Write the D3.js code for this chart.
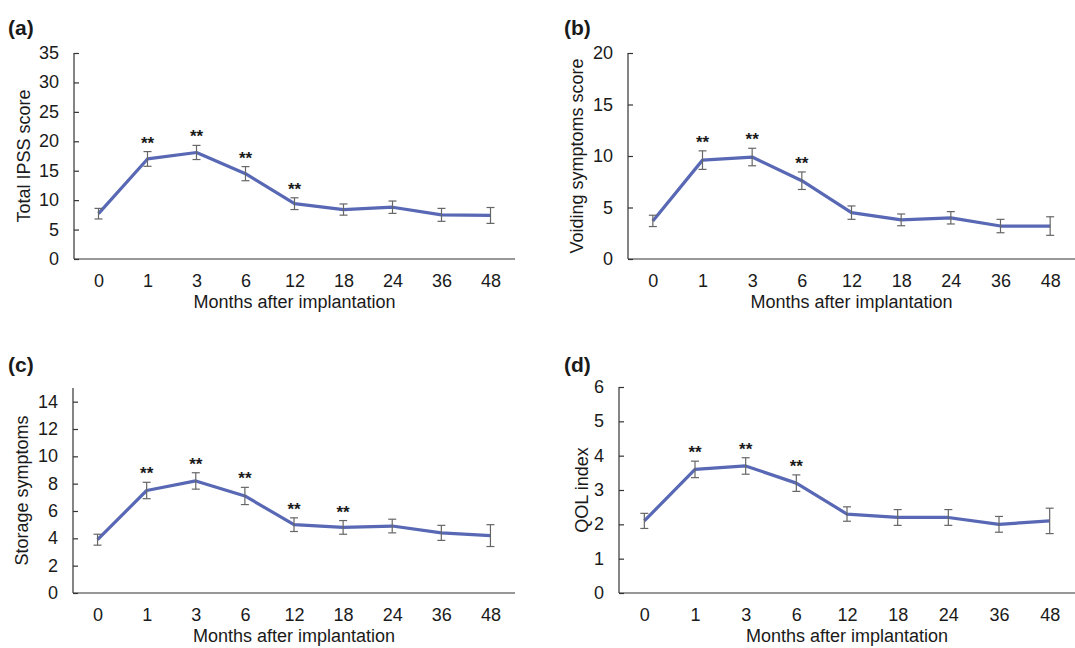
<!DOCTYPE html>
<html>
<head>
<meta charset="utf-8">
<script src="https://cdn.jsdelivr.net/npm/d3@7"></script>
<style>
  body { margin: 0; background: #fff; }
  svg text { font-family: "Liberation Sans", Arial, sans-serif; fill: #1a1a1a; }
  .c-axis path, .c-axis line { stroke: #333; stroke-width: 1.2; }
</style>
</head>
<body>
<div id="chart"></div>
<script>
// months after implantation (x categories)
const months = ['0', '1', '3', '6', '12', '18', '24', '36', '48'];

// (a) total IPSS score
const ipssMean = [7.7, 17.0, 18.1, 14.5, 9.4, 8.4, 8.8, 7.5, 7.4];
const ipssErr = [0.9, 1.25, 1.2, 1.2, 1.0, 0.95, 1.05, 1.1, 1.35];
const ipssSig = [false, true, true, true, true, false, false, false, false];

// (b) voiding symptoms score
const voidingMean = [3.7, 9.6, 9.9, 7.6, 4.5, 3.8, 4.0, 3.2, 3.2];
const voidingErr = [0.55, 0.9, 0.85, 0.85, 0.65, 0.57, 0.6, 0.65, 0.9];
const voidingSig = [false, true, true, true, false, false, false, false, false];

// (c) storage symptoms
const storageMean = [3.9, 7.5, 8.2, 7.1, 5.0, 4.8, 4.9, 4.4, 4.2];
const storageErr = [0.4, 0.6, 0.6, 0.63, 0.5, 0.5, 0.5, 0.55, 0.8];
const storageSig = [false, true, true, true, true, true, false, false, false];

// (d) QOL index
const qolMean = [2.1, 3.6, 3.7, 3.2, 2.3, 2.2, 2.2, 2.0, 2.1];
const qolErr = [0.22, 0.24, 0.24, 0.24, 0.21, 0.23, 0.23, 0.23, 0.37];
const qolSig = [false, true, true, true, false, false, false, false, false];

// y axis ticks per panel
const ipssTicks = [0, 5, 10, 15, 20, 25, 30, 35];
const voidingTicks = [0, 5, 10, 15, 20];
const storageTicks = [0, 2, 4, 6, 8, 10, 12, 14];
const qolTicks = [0, 1, 2, 3, 4, 5, 6];

const xTitle = 'Months after implantation';
const lineColor = '#5868b4';

const svg = d3.select('#chart').append('svg')
  .attr('width', 1075)
  .attr('height', 648);

// layout of each panel (positions only)
const panels = [
  { tag: '(a)', title: 'Total IPSS score', mean: ipssMean, err: ipssErr, sig: ipssSig,
    ticks: ipssTicks, yMax: 35, left: 74, right: 515, top: 53, bottom: 259, titleOff: 44, tagX: 8, tagY: 35 },
  { tag: '(b)', title: 'Voiding symptoms score', mean: voidingMean, err: voidingErr, sig: voidingSig,
    ticks: voidingTicks, yMax: 20, left: 628, right: 1075, top: 53, bottom: 259, titleOff: 45, tagX: 564, tagY: 35 },
  { tag: '(c)', title: 'Storage symptoms', mean: storageMean, err: storageErr, sig: storageSig,
    ticks: storageTicks, yMax: 15, left: 73, right: 515, top: 388, bottom: 593, titleOff: 45, tagX: 8, tagY: 372 },
  { tag: '(d)', title: 'QOL index', mean: qolMean, err: qolErr, sig: qolSig,
    ticks: qolTicks, yMax: 6, left: 619, right: 1075, top: 387, bottom: 593, titleOff: 31, tagX: 564, tagY: 372 }
];

panels.forEach(p => {
  const g = svg.append('g');

  const x = d3.scalePoint().domain(months).range([p.left, p.right]).padding(0.5);
  const y = d3.scaleLinear().domain([0, p.yMax]).range([p.bottom, p.top]);

  // y axis, ticks pointing inwards
  const yAxis = d3.axisRight(y).tickValues(p.ticks).tickSize(5).tickFormat('');
  g.append('g')
    .attr('class', 'c-axis')
    .attr('transform', 'translate(' + p.left + ',0)')
    .call(yAxis)
    .call(s => s.select('.domain').attr('d', 'M0,' + p.top + 'V' + p.bottom));

  g.selectAll('.ylab')
    .data(p.ticks)
    .join('text')
    .attr('x', p.left - 15)
    .attr('y', d => y(d) + 6)
    .attr('text-anchor', 'end')
    .style('font-size', '18px')
    .text(d => d);

  // x axis: plain line, no tick marks
  const xAxis = d3.axisBottom(x).tickSize(0).tickPadding(15);
  g.append('g')
    .attr('class', 'c-axis')
    .attr('transform', 'translate(0,' + p.bottom + ')')
    .call(xAxis)
    .call(s => s.select('.domain').attr('d', 'M' + p.left + ',0H' + p.right))
    .call(s => s.selectAll('text').style('font-size', '18px').attr('fill', '#1a1a1a'));

  // axis titles
  g.append('text')
    .attr('x', (p.left + p.right) / 2)
    .attr('y', p.bottom + 49)
    .attr('text-anchor', 'middle')
    .style('font-size', '18px')
    .text(xTitle);

  g.append('text')
    .attr('transform', 'translate(' + (p.left - p.titleOff) + ',' + ((p.top + p.bottom) / 2) + ') rotate(-90)')
    .attr('text-anchor', 'middle')
    .style('font-size', '18px')
    .text(p.title);

  // panel tag
  g.append('text')
    .attr('x', p.tagX)
    .attr('y', p.tagY)
    .style('font-size', '21px')
    .style('font-weight', 'bold')
    .text(p.tag);

  const rows = months.map((m, i) => ({ m: m, v: p.mean[i], e: p.err[i], s: p.sig[i] }));

  // mean line
  const line = d3.line().x(d => x(d.m)).y(d => y(d.v));
  g.append('path')
    .attr('d', line(rows))
    .attr('fill', 'none')
    .attr('stroke', lineColor)
    .attr('stroke-width', 3.2)
    .attr('stroke-linejoin', 'round');

  // error bars
  const bars = g.selectAll('.err').data(rows).join('g').attr('stroke', '#666').attr('stroke-width', 1.2);
  bars.append('line')
    .attr('x1', d => x(d.m)).attr('x2', d => x(d.m))
    .attr('y1', d => y(d.v + d.e)).attr('y2', d => y(d.v - d.e));
  bars.append('line')
    .attr('x1', d => x(d.m) - 4).attr('x2', d => x(d.m) + 4)
    .attr('y1', d => y(d.v + d.e)).attr('y2', d => y(d.v + d.e));
  bars.append('line')
    .attr('x1', d => x(d.m) - 4).attr('x2', d => x(d.m) + 4)
    .attr('y1', d => y(d.v - d.e)).attr('y2', d => y(d.v - d.e));

  // significance marks
  g.selectAll('.sig')
    .data(rows.filter(d => d.s))
    .join('text')
    .attr('x', d => x(d.m))
    .attr('y', d => y(d.v + d.e) - 3)
    .attr('text-anchor', 'middle')
    .style('font-size', '17px')
    .style('font-weight', 'bold')
    .text('**');
});
</script>
</body>
</html>
